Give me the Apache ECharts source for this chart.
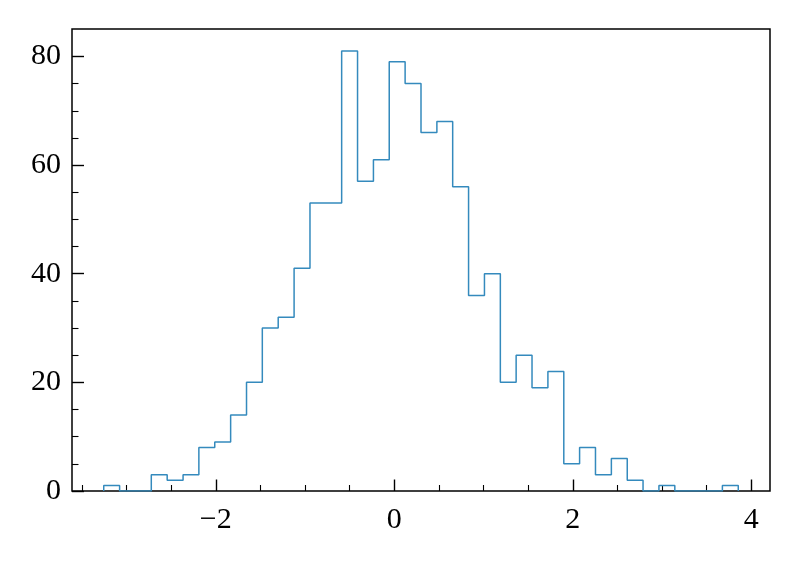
<!DOCTYPE html>
<html>
<head>
<meta charset="utf-8">
<script src="https://cdn.jsdelivr.net/npm/echarts@6/dist/echarts.min.js"></script>
<style>
  html, body { margin: 0; padding: 0; background: #fff; }
  #container { width: 799px; height: 569px; }
</style>
</head>
<body>
<div id="container"></div>
<script>
// bin edges (41) and counts (40)
const binEdges = [
  -3.256, -3.078, -2.901, -2.723, -2.545, -2.367, -2.190, -2.012, -1.834, -1.656,
  -1.479, -1.301, -1.123, -0.945, -0.768, -0.590, -0.412, -0.234, -0.057, 0.121,
  0.299, 0.477, 0.654, 0.832, 1.010, 1.188, 1.365, 1.543, 1.721, 1.899,
  2.076, 2.254, 2.432, 2.610, 2.787, 2.965, 3.143, 3.321, 3.498, 3.676,
  3.854
];
const counts = [
  1, 0, 0, 3, 2, 3, 8, 9, 14, 20,
  30, 32, 41, 53, 53, 81, 57, 61, 79, 75,
  66, 68, 56, 36, 40, 20, 25, 19, 22, 5,
  8, 3, 6, 2, 0, 1, 0, 0, 0, 1
];
const xMajorTicks = [-2, 0, 2, 4];
const xMinorTicks = [-3.5, -3, -2.5, -1.5, -1, -0.5, 0.5, 1, 1.5, 2.5, 3, 3.5];
const yMajorTicks = [0, 20, 40, 60, 80];
const yMinorTicks = [5, 10, 15, 25, 30, 35, 45, 50, 55, 65, 70, 75];

const xMin = -3.6115, xMax = 4.2095;
const yMin = 0, yMax = 85.05;

// outline of the step histogram
let outline = [[binEdges[0], 0]];
for (let i = 0; i < counts.length; i++) {
  outline.push([binEdges[i], counts[i]]);
}
outline.push([binEdges[binEdges.length - 1], counts[counts.length - 1]]);
outline.push([binEdges[binEdges.length - 1], 0]);

const font = "'Liberation Serif', 'DejaVu Serif', serif";
const tickColor = '#000';

function fmt(v) {
  return String(v).replace('-', '\u2212');
}

let dom = document.getElementById('container');
let myChart = echarts.init(dom, null, { renderer: 'canvas' });

let option = {
  backgroundColor: '#fff',
  animation: false,
  grid: {
    left: 72,
    right: 29,
    top: 29,
    bottom: 78,
    show: true,
    borderColor: '#000',
    borderWidth: 1.5,
    backgroundColor: 'transparent'
  },
  xAxis: [
    {
      type: 'value',
      min: xMin,
      max: xMax,
      axisLine: { show: false, onZero: false },
      splitLine: { show: false },
      axisTick: {
        show: true, inside: true, length: 11.5,
        customValues: xMajorTicks,
        lineStyle: { color: tickColor, width: 1.4 }
      },
      axisLabel: {
        show: true,
        customValues: xMajorTicks,
        margin: 14,
        fontFamily: font,
        fontSize: 30,
        color: '#000',
        formatter: fmt
      }
    },
    {
      type: 'value',
      min: xMin,
      max: xMax,
      position: 'bottom',
      axisLine: { show: false, onZero: false },
      splitLine: { show: false },
      axisLabel: { show: false },
      axisTick: {
        show: true, inside: true, length: 6,
        customValues: xMinorTicks,
        lineStyle: { color: tickColor, width: 1.1 }
      }
    }
  ],
  yAxis: [
    {
      type: 'value',
      min: yMin,
      max: yMax,
      axisLine: { show: false, onZero: false },
      splitLine: { show: false },
      axisTick: {
        show: true, inside: true, length: 12,
        customValues: yMajorTicks,
        lineStyle: { color: tickColor, width: 1.4 }
      },
      axisLabel: {
        show: true,
        customValues: yMajorTicks,
        margin: 11,
        fontFamily: font,
        fontSize: 30,
        color: '#000',
        formatter: fmt
      }
    },
    {
      type: 'value',
      min: yMin,
      max: yMax,
      position: 'left',
      axisLine: { show: false, onZero: false },
      splitLine: { show: false },
      axisLabel: { show: false },
      axisTick: {
        show: true, inside: true, length: 6.5,
        customValues: yMinorTicks,
        lineStyle: { color: tickColor, width: 1.1 }
      }
    }
  ],
  series: [{
    type: 'line',
    xAxisIndex: 0,
    yAxisIndex: 0,
    step: 'end',
    data: outline,
    symbol: 'none',
    clip: true,
    lineStyle: { color: '#348ABD', width: 1.5 }
  }]
};

myChart.setOption(option);
</script>
</body>
</html>
